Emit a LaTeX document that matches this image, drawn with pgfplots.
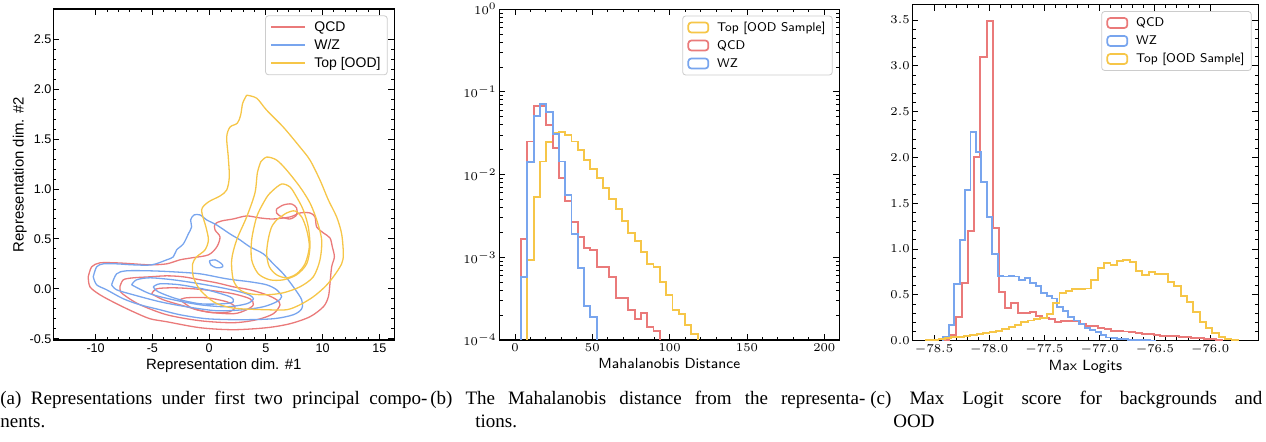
\documentclass[border=0pt]{standalone}
\usepackage{fontspec}
\usepackage{pgfplots}
\pgfplotsset{compat=1.18}
\newfontfamily\arialf{Liberation Sans}
\newfontfamily\timesf{Liberation Serif}
\definecolor{qcd}{RGB}{234,122,122}
\definecolor{wz}{RGB}{120,165,238}
\definecolor{topc}{RGB}{246,198,72}

\pgfplotsset{
  panel/.style={
    scale only axis,
    axis line style={line width=0.6pt},
    tick align=inside,
    major tick length=3pt, minor tick length=1.6pt,
    every tick/.style={black, line width=0.45pt},
    legend cell align=left,
    legend style={at={(1,1)}, anchor=north east, xshift=-3.3pt, yshift=-3.2pt,
      draw=black!20, rounded corners=1.5pt, line width=0.4pt,
      inner xsep=2.4pt, inner ysep=1.5pt, row sep=0.5pt, column sep=3pt,
      nodes={inner sep=1pt, text height=5.2pt, text depth=1.3pt}},
  },
  boxleg/.style={legend image code/.code={%
    \draw[##1, line width=0.85pt] (0pt,-2.5pt) rectangle (10pt,2.5pt);}},
  onedec/.style={/pgf/number format/fixed, /pgf/number format/fixed zerofill,
    /pgf/number format/precision=1},
}

\begin{document}
\begin{tikzpicture}
\useasboundingbox (0pt,0pt) rectangle (633pt,221pt);

% ---------------- (a) contours ----------------
\begin{axis}[panel,
  at={(26.65pt,51pt)}, anchor=south west,
  width=170.5pt, height=165.5pt,
  xmin=-13.73, xmax=16.32, ymin=-0.513, ymax=2.804,
  xtick={-10,-5,...,15}, ytick={-0.5,0,...,2.5},
  minor x tick num=4, minor y tick num=4,
  /pgf/number format/assume math mode=true,
  ticklabel style={font=\arialf\fontsize{6.3}{7}\selectfont, inner sep=0pt},
  xticklabel style={yshift=-1.6pt},
  yticklabel style={xshift=-0.8pt, onedec},
  xlabel={Representation dim. \#1}, ylabel={Representation dim. \#2},
  label style={font=\arialf\fontsize{7.45}{8.5}\selectfont, inner sep=0pt},
  xlabel style={at={(axis description cs:0.5,0)}, anchor=north, yshift=-9.3pt},
  ylabel style={at={(axis description cs:-0.077,0.5)}, anchor=south},
  legend style={font=\arialf\fontsize{7}{8}\selectfont},
  every axis plot/.append style={line width=0.65pt, smooth},
]
% legend keys, one for each sample
\addlegendimage{draw=qcd, line width=0.95pt, sharp plot}
\addlegendentry{QCD}
\addlegendimage{draw=wz, line width=0.95pt, sharp plot}
\addlegendentry{W/Z}
\addlegendimage{draw=topc, line width=0.95pt, sharp plot}
\addlegendentry{Top [OOD]}
% QCD levels
\addplot[draw=qcd, forget plot] coordinates {(-10.65,0.12) (-10.35,0.22) (-9.62,0.26) (-8.15,0.26) (-6.68,0.25) (-5.21,0.24) (-3.74,0.25) (-2.57,0.29) (-1.54,0.31) (-0.06,0.34) (0.68,0.42) (0.96,0.52) (0.52,0.59) (0.52,0.65) (1.11,0.68) (2.13,0.70) (3.31,0.73) (4.48,0.71) (5.66,0.70) (7.13,0.72) (8.01,0.76) (8.89,0.76) (9.33,0.72) (9.48,0.62) (10.07,0.56) (10.65,0.51) (10.86,0.42) (11.04,0.32) (10.80,0.22) (10.65,0.05) (10.51,-0.08) (10.07,-0.18) (8.89,-0.28) (7.13,-0.35) (5.07,-0.39) (2.13,-0.41) (-0.80,-0.39) (-3.74,-0.33) (-5.21,-0.30) (-6.68,-0.23) (-8.15,-0.15) (-9.62,-0.06) (-10.50,0.02) (-10.65,0.12)};
\addplot[draw=qcd, forget plot] coordinates {(5.95,0.80) (6.54,0.84) (7.27,0.85) (7.71,0.81) (7.71,0.74) (7.13,0.70) (6.39,0.72) (5.95,0.76) (5.95,0.80)};
\addplot[draw=qcd, forget plot] coordinates {(-7.86,0.02) (-7.56,0.09) (-6.68,0.11) (-5.21,0.12) (-3.74,0.13) (-2.27,0.12) (-0.80,0.09) (0.66,0.06) (2.13,0.02) (3.60,-0.01) (5.07,-0.06) (5.95,-0.11) (6.25,-0.16) (5.66,-0.25) (4.19,-0.31) (2.13,-0.34) (-0.80,-0.32) (-3.74,-0.26) (-6.09,-0.16) (-7.27,-0.08) (-7.80,-0.03) (-7.86,0.02)};
\addplot[draw=qcd, forget plot] coordinates {(-5.06,-0.05) (-4.62,0.00) (-3.16,0.01) (-1.39,0.00) (0.38,-0.02) (2.13,-0.05) (3.60,-0.10) (3.90,-0.16) (3.31,-0.21) (2.13,-0.25) (-0.21,-0.23) (-2.27,-0.17) (-4.04,-0.11) (-5.06,-0.05)};
\addplot[draw=qcd, forget plot] coordinates {(-2.57,-0.11) (-1.98,-0.09) (-0.21,-0.09) (1.55,-0.13) (2.28,-0.18) (1.84,-0.23) (0.38,-0.24) (-1.39,-0.20) (-2.57,-0.11)};
% W/Z levels
\addplot[draw=wz, forget plot] coordinates {(-10.21,0.12) (-9.91,0.22) (-9.32,0.25) (-8.15,0.25) (-6.68,0.24) (-5.06,0.24) (-3.74,0.29) (-3.16,0.32) (-2.86,0.39) (-2.27,0.45) (-1.83,0.55) (-1.54,0.62) (-1.63,0.69) (-1.33,0.74) (-0.80,0.74) (-0.21,0.69) (0.66,0.64) (1.84,0.55) (2.72,0.49) (3.60,0.42) (4.78,0.35) (5.66,0.25) (6.54,0.15) (7.42,0.02) (8.16,-0.11) (8.16,-0.20) (7.42,-0.26) (5.66,-0.30) (2.72,-0.31) (-0.21,-0.30) (-2.57,-0.26) (-4.33,-0.21) (-6.09,-0.16) (-7.56,-0.10) (-9.03,-0.01) (-9.91,0.04) (-10.21,0.12)};
\addplot[draw=wz, forget plot] coordinates {(0.03,0.28) (0.53,0.29) (1.11,0.25) (1.19,0.22) (0.66,0.21) (0.15,0.24) (0.03,0.28)};
\addplot[draw=wz, forget plot] coordinates {(-8.59,0.04) (-8.15,0.15) (-7.27,0.18) (-5.21,0.18) (-3.16,0.17) (-0.80,0.15) (1.55,0.10) (3.60,0.07) (5.07,0.04) (5.95,-0.01) (6.39,-0.08) (5.95,-0.13) (4.78,-0.18) (2.99,-0.21) (0.66,-0.22) (-1.98,-0.18) (-4.33,-0.13) (-6.68,-0.06) (-8.15,-0.01) (-8.59,0.04)};
\addplot[draw=wz, forget plot] coordinates {(-6.83,0.04) (-6.39,0.09) (-5.21,0.11) (-3.16,0.09) (-0.80,0.05) (1.55,0.00) (3.31,-0.05) (3.90,-0.10) (3.31,-0.15) (1.55,-0.18) (-0.80,-0.16) (-3.16,-0.11) (-5.21,-0.05) (-6.83,0.04)};
\addplot[draw=wz, forget plot] coordinates {(-4.92,0.02) (-4.33,0.05) (-2.57,0.04) (-0.21,-0.01) (1.84,-0.08) (2.13,-0.13) (1.25,-0.15) (-0.80,-0.15) (-2.86,-0.10) (-4.48,-0.03) (-4.92,0.02)};
% Top levels
\addplot[draw=topc, forget plot] coordinates {(3.31,1.94) (4.19,1.91) (5.07,1.79) (6.54,1.62) (8.01,1.42) (8.89,1.29) (9.77,1.09) (10.51,0.89) (11.24,0.72) (11.68,0.55) (11.83,0.35) (11.68,0.25) (10.95,0.12) (10.21,0.02) (9.18,-0.08) (8.01,-0.16) (6.83,-0.21) (5.07,-0.21) (2.72,-0.20) (1.55,-0.18) (0.38,-0.13) (-0.80,-0.01) (-1.39,0.12) (-1.45,0.25) (-1.10,0.32) (-0.36,0.39) (-0.06,0.49) (-0.28,0.62) (-0.66,0.79) (-0.06,0.87) (0.96,0.93) (1.55,0.99) (1.78,1.12) (1.69,1.32) (1.55,1.52) (1.84,1.62) (2.49,1.66) (2.78,1.74) (2.96,1.86) (3.31,1.94)};
\addplot[draw=topc, forget plot] coordinates {(4.54,1.27) (5.07,1.32) (5.95,1.29) (6.83,1.19) (8.01,1.02) (8.89,0.86) (9.48,0.69) (9.92,0.49) (9.77,0.29) (9.18,0.12) (8.01,0.02) (6.54,-0.04) (5.07,-0.06) (3.60,-0.05) (2.72,-0.01) (2.13,0.09) (1.99,0.29) (2.43,0.49) (3.31,0.72) (4.04,0.96) (4.25,1.16) (4.54,1.27)};
\addplot[draw=topc, forget plot] coordinates {(5.66,0.99) (6.39,1.05) (7.13,1.02) (7.71,0.92) (8.30,0.79) (8.74,0.62) (8.89,0.42) (8.60,0.25) (7.71,0.14) (6.54,0.09) (5.36,0.09) (4.34,0.15) (3.75,0.29) (3.75,0.49) (4.19,0.72) (4.78,0.86) (5.22,0.94) (5.66,0.99)};
\addplot[draw=topc, forget plot] coordinates {(5.95,0.69) (6.83,0.76) (7.57,0.78) (8.16,0.72) (8.60,0.59) (8.83,0.42) (8.45,0.25) (7.71,0.15) (6.83,0.11) (5.95,0.14) (5.31,0.22) (5.07,0.35) (5.22,0.50) (5.51,0.62) (5.95,0.69)};
\end{axis}

% ---------------- (b) Mahalanobis distance ----------------
\begin{axis}[panel, boxleg,
  at={(249.65pt,51pt)}, anchor=south west,
  width=170pt, height=165.4pt,
  xmin=-10.15, xmax=209.7, ymode=log, ymin=1e-4, ymax=1,
  xtick={0,50,...,200}, ytick={1e-4,1e-3,1e-2,1e-1,1},
  minor x tick num=4,
  ticklabel style={font=\fontsize{6.5}{7.5}\selectfont, inner sep=0pt},
  xticklabel style={yshift=-1.9pt},
  yticklabel style={xshift=-1.1pt},
  xlabel={Mahalanobis Distance},
  label style={font=\sffamily\fontsize{7.3}{9}\selectfont, inner sep=0pt},
  xlabel style={at={(axis description cs:0.5,0)}, anchor=north, yshift=-9.2pt},
  legend style={font=\sffamily\fontsize{6.3}{7.5}\selectfont},
  every axis plot/.append style={const plot, line width=0.95pt},
]
\addplot[draw=topc] coordinates {(7.98,1e-6) (7.98,9.3e-4) (12.06,5.32e-3) (16.14,0.0144) (20.22,0.0246) (24.30,0.0316) (28.38,0.0325) (32.46,0.0302) (36.54,0.0251) (40.62,0.0199) (44.70,0.0150) (48.78,0.0116) (52.86,9.03e-3) (56.94,6.84e-3) (61.02,5.08e-3) (65.10,3.81e-3) (69.18,2.75e-3) (73.26,1.95e-3) (77.34,1.59e-3) (81.42,1.15e-3) (85.50,8.22e-4) (89.58,7.71e-4) (93.66,5.08e-4) (97.74,3.50e-4) (101.82,2.31e-4) (105.90,2.05e-4) (109.98,1.52e-4) (114.06,1.17e-4) (118.14,1.17e-4) (118.14,1e-6)};
\addlegendentry{Top [OOD Sample]}
\addplot[draw=qcd] coordinates {(3.90,1e-6) (3.90,1.68e-3) (7.98,0.0251) (12.06,0.0677) (16.14,0.0677) (20.22,0.0399) (24.30,0.0212) (28.38,0.0091) (32.46,4.75e-3) (36.54,2.65e-3) (40.62,1.75e-3) (44.70,1.29e-3) (48.78,1.23e-3) (52.86,7.57e-4) (56.94,7.57e-4) (61.02,5.73e-4) (65.10,3.19e-4) (69.18,3.19e-4) (73.26,2.31e-4) (77.34,1.79e-4) (81.42,2.10e-4) (85.50,1.45e-4) (89.58,1.29e-4) (93.66,1.29e-4) (93.66,1e-6)};
\addlegendentry{QCD}
\addplot[draw=wz] coordinates {(3.90,1e-6) (3.90,5.73e-4) (7.98,0.0143) (12.06,0.0508) (16.14,0.0709) (20.22,0.057) (24.30,0.031) (28.38,0.0144) (32.46,5.66e-3) (36.54,1.93e-3) (40.62,7.36e-4) (44.70,2.55e-4) (48.78,1.88e-4) (52.86,1.88e-4) (52.86,1e-6)};
\addlegendentry{WZ}
\end{axis}

% ---------------- (c) Max logits ----------------
\begin{axis}[panel, boxleg,
  at={(456.15pt,50.65pt)}, anchor=south west,
  width=173pt, height=168pt,
  xmin=-78.697, xmax=-75.563, ymin=0, ymax=3.667,
  xtick={-78.5,-78,...,-76}, ytick={0,0.5,...,3.5},
  minor x tick num=4, minor y tick num=4,
  ticklabel style={font=\fontsize{6.5}{7.5}\selectfont, inner sep=0pt, onedec},
  xticklabel style={yshift=-1.9pt},
  yticklabel style={xshift=-1.1pt},
  xlabel={Max Logits},
  label style={font=\sffamily\fontsize{7.4}{9}\selectfont, inner sep=0pt},
  xlabel style={at={(axis description cs:0.5,0)}, anchor=north, yshift=-9.4pt},
  legend style={font=\sffamily\fontsize{6.3}{7.5}\selectfont},
  every axis plot/.append style={const plot, line width=0.95pt},
]
\addplot[draw=qcd] coordinates {(-78.417,0) (-78.417,0.01) (-78.361,0.062) (-78.305,0.26) (-78.249,0.633) (-78.192,1.197) (-78.136,2.008) (-78.080,3.10) (-78.024,3.49) (-77.968,1.226) (-77.911,0.535) (-77.855,0.36) (-77.799,0.407) (-77.743,0.298) (-77.687,0.306) (-77.630,0.316) (-77.574,0.27) (-77.518,0.25) (-77.462,0.235) (-77.406,0.20) (-77.349,0.215) (-77.293,0.215) (-77.237,0.21) (-77.181,0.18) (-77.125,0.165) (-77.068,0.16) (-77.012,0.14) (-76.956,0.125) (-76.900,0.11) (-76.844,0.107) (-76.787,0.10) (-76.731,0.095) (-76.675,0.085) (-76.619,0.075) (-76.563,0.073) (-76.506,0.06) (-76.450,0.055) (-76.394,0.05) (-76.338,0.048) (-76.282,0.04) (-76.225,0.038) (-76.169,0.03) (-76.113,0.028) (-76.057,0.02) (-76.001,0.015) (-75.944,0.008) (-75.888,0.008) (-75.888,0)};
\addlegendentry{QCD}
\addplot[draw=wz] coordinates {(-78.416,0) (-78.416,0.04) (-78.367,0.17) (-78.318,0.62) (-78.268,1.10) (-78.219,1.64) (-78.170,2.28) (-78.121,2.06) (-78.072,1.73) (-78.022,1.35) (-77.973,0.95) (-77.924,0.71) (-77.875,0.70) (-77.826,0.71) (-77.776,0.70) (-77.727,0.66) (-77.678,0.68) (-77.629,0.63) (-77.580,0.60) (-77.530,0.52) (-77.481,0.49) (-77.432,0.46) (-77.383,0.37) (-77.334,0.32) (-77.284,0.255) (-77.235,0.22) (-77.186,0.18) (-77.137,0.135) (-77.088,0.115) (-77.038,0.09) (-76.989,0.06) (-76.940,0.035) (-76.891,0.03) (-76.842,0.02) (-76.792,0.015) (-76.743,0.01) (-76.694,0.008) (-76.645,0.005) (-76.596,0.003) (-76.546,0.002) (-76.497,0.002) (-76.497,0)};
\addlegendentry{WZ}
\addplot[draw=topc] coordinates {(-78.575,0) (-78.575,0.003) (-78.518,0.01) (-78.460,0.02) (-78.402,0.03) (-78.345,0.04) (-78.287,0.045) (-78.229,0.05) (-78.171,0.06) (-78.114,0.07) (-78.056,0.08) (-77.998,0.09) (-77.941,0.11) (-77.883,0.13) (-77.825,0.15) (-77.768,0.17) (-77.710,0.20) (-77.652,0.22) (-77.595,0.24) (-77.537,0.25) (-77.479,0.29) (-77.421,0.41) (-77.364,0.524) (-77.306,0.546) (-77.248,0.564) (-77.191,0.564) (-77.133,0.57) (-77.075,0.662) (-77.017,0.797) (-76.960,0.845) (-76.902,0.826) (-76.844,0.873) (-76.787,0.88) (-76.729,0.86) (-76.671,0.76) (-76.614,0.717) (-76.556,0.75) (-76.498,0.728) (-76.440,0.728) (-76.383,0.64) (-76.325,0.60) (-76.267,0.488) (-76.210,0.426) (-76.152,0.317) (-76.094,0.207) (-76.037,0.135) (-75.979,0.08) (-75.921,0.044) (-75.864,0.02) (-75.806,0.005) (-75.748,0.005) (-75.748,0)};
\addlegendentry{Top [OOD Sample]}
\end{axis}

% ---------------- captions ----------------
\begin{scope}[every node/.style={inner sep=0pt, anchor=base west,
    font=\timesf\fontsize{9.5}{11}\selectfont}]
\node at (0pt,18.5pt) {\makebox[213.5pt][s]{(a) Representations under first two principal compo-}};
\node at (0pt,7pt) {nents.};
\node at (215pt,18.5pt) {\makebox[217.5pt][s]{(b) The Mahalanobis distance from the representa-}};
\node at (237.5pt,7pt) {tions.};
\node at (435pt,18.5pt) {\makebox[196pt][s]{(c) Max Logit score for backgrounds and}};
\node at (446.5pt,7pt) {OOD};
\end{scope}
\end{tikzpicture}
\end{document}
